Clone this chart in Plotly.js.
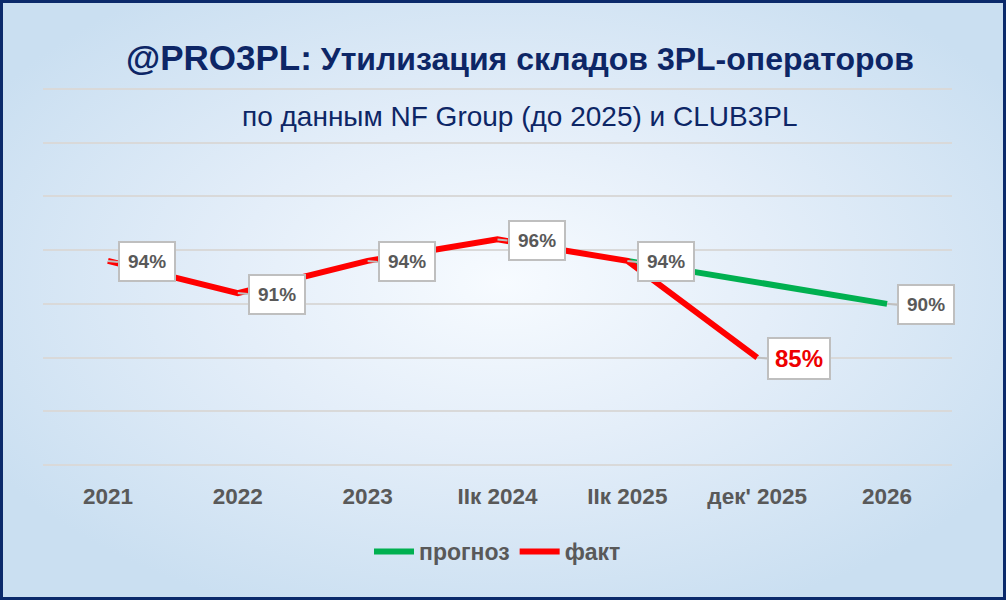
<!DOCTYPE html>
<html>
<head>
<meta charset="utf-8">
<script src="https://cdn.plot.ly/plotly-3.0.1.min.js"></script>
<style>
  html, body { margin: 0; padding: 0; }
  #wrap {
    width: 1006px; height: 600px; box-sizing: border-box;
    border: 3px solid #0b2a6b;
    background: radial-gradient(ellipse 60% 60% at 50% 47%, #f7fbff 0%, #e4eef9 45%, #cadff1 100%);
    position: relative; overflow: hidden;
  }
  #chart { position: absolute; left: -3px; top: -3px; width: 1006px; height: 600px; }
</style>
</head>
<body>
<div id="wrap"><div id="chart"></div></div>
<script>
const categories = ["2021", "2022", "2023", "IIк 2024", "IIк 2025", "дек' 2025", "2026"];
const factValues = [94, 91, 94, 96, 94, 85, null];
const forecastValues = [null, null, null, null, 94, null, 90];
const factName = "факт";
const forecastName = "прогноз";
const titleMain = "@PRO3PL:";
const titleRest = "Утилизация складов 3PL-операторов";
const subtitle = "по данным NF Group (до 2025) и CLUB3PL";
const highlightIndex = 5;

const gray = "#595959";
const navy = "#0d2666";
const font = "Liberation Sans, Arial, sans-serif";

const traces = [
  {
    x: categories, y: forecastValues, name: forecastName, type: "scatter", mode: "lines",
    connectgaps: true, line: { color: "#00b050", width: 6 }, hoverinfo: "skip"
  },
  {
    x: categories, y: factValues, name: factName, type: "scatter", mode: "lines",
    connectgaps: false, line: { color: "#ff0000", width: 6 }, hoverinfo: "skip"
  }
];

function label(idx, val) {
  const hi = idx === highlightIndex;
  return {
    x: idx, y: val, xref: "x", yref: "y",
    text: "<b>" + val + "%</b>",
    showarrow: true, arrowhead: 0, arrowwidth: 2, arrowcolor: "#bfbfbf",
    axref: "pixel", ayref: "pixel", ax: 10, ay: 1,
    xanchor: "left", yanchor: "middle",
    bgcolor: "#ffffff", bordercolor: "#bfbfbf", borderwidth: 2,
    borderpad: hi ? 6 : 8,
    font: { family: font, size: hi ? 24 : 19, color: hi ? "#ee0000" : gray }
  };
}

const annotations = [];
factValues.forEach((v, i) => { if (v !== null) annotations.push(label(i, v)); });
forecastValues.forEach((v, i) => { if (v !== null && factValues[i] === null) annotations.push(label(i, v)); });

annotations.push({
  xref: "paper", yref: "paper", x: 0.525, y: 1.082, xanchor: "center", yanchor: "middle",
  showarrow: false,
  text: "<b><span style='font-size:35px'>" + titleMain + "</span> " + titleRest + "</b>",
  font: { family: font, size: 32, color: navy }
});
annotations.push({
  xref: "paper", yref: "paper", x: 0.525, y: 0.925, xanchor: "center", yanchor: "middle",
  showarrow: false, text: subtitle,
  font: { family: font, size: 28, color: navy }
});

const layout = {
  width: 1006, height: 600,
  paper_bgcolor: "rgba(0,0,0,0)", plot_bgcolor: "rgba(0,0,0,0)",
  margin: { l: 43, r: 54, t: 88, b: 134 },
  showlegend: true,
  legend: {
    orientation: "h", x: 0.5, y: -0.226, xanchor: "center", yanchor: "middle",
    font: { family: font, size: 23, color: gray, weight: "bold" },
    bgcolor: "rgba(0,0,0,0)", itemwidth: 40, traceorder: "normal"
  },
  xaxis: {
    type: "category", categoryarray: categories, categoryorder: "array",
    range: [-0.5, 6.5], showgrid: false, zeroline: false, showline: false,
    ticks: "outside", ticklen: 10, tickcolor: "rgba(0,0,0,0)",
    tickfont: { family: font, size: 22.5, color: gray, weight: "bold" },
    fixedrange: true
  },
  yaxis: {
    range: [74.9, 110.1], dtick: 5, tick0: 75, showgrid: true, gridcolor: "#d9d9d9", gridwidth: 2,
    showticklabels: false, zeroline: false, showline: false, ticks: "", fixedrange: true
  },
  annotations: annotations
};

Plotly.newPlot("chart", traces, layout, { displayModeBar: false, staticPlot: true });
</script>
</body>
</html>
